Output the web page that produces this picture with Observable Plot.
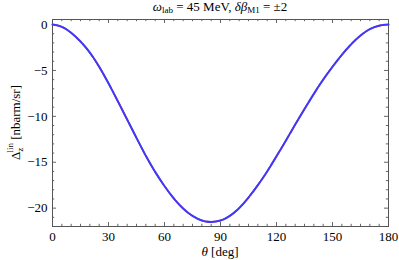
<!DOCTYPE html>
<html>
<head>
<meta charset="utf-8">
<script src="https://cdn.jsdelivr.net/npm/d3@7"></script>
<script src="https://cdn.jsdelivr.net/npm/@observablehq/plot@0.6"></script>
<style>
  html, body { margin: 0; padding: 0; background: #fff; }
  #chart { width: 399px; height: 260px; }
</style>
</head>
<body>
<div id="chart"></div>
<script>
// Angles (deg) and Δ_z^lin values (nbarm/sr)
const theta = [0, 5, 10, 15, 20, 25, 30, 35, 40, 45, 50, 55, 60, 65, 70, 75, 80, 85, 90,
               95, 100, 105, 110, 115, 120, 125, 130, 135, 140, 145, 150, 155, 160, 165, 170, 175, 180];
const deltaPlus = [0, -0.25, -0.9, -1.85, -3.05, -4.6, -6.4, -8.35, -10.35, -12.35, -14.3, -16.05, -17.6,
                   -18.95, -20.05, -20.85, -21.35, -21.5, -21.35, -20.85, -20.0, -18.85, -17.5, -16.0, -14.35,
                   -12.65, -10.9, -9.2, -7.55, -6.0, -4.6, -3.3, -2.15, -1.2, -0.5, -0.12, 0];
const deltaMinus = [0, -0.25, -0.9, -1.85, -3.05, -4.6, -6.4, -8.35, -10.35, -12.35, -14.3, -16.05, -17.6,
                    -18.95, -20.05, -20.85, -21.35, -21.5, -21.35, -20.85, -20.0, -18.85, -17.5, -16.0, -14.35,
                    -12.65, -10.9, -9.2, -7.55, -6.0, -4.6, -3.3, -2.15, -1.2, -0.5, -0.12, 0];
const xMajor = [0, 30, 60, 90, 120, 150, 180];
const xMinor = d3.range(0, 181, 5).filter(v => v % 30 !== 0);
const yMajor = [0, -5, -10, -15, -20];
const yMinor = d3.range(-22, 1, 1).filter(v => v % 5 !== 0);

const rowsPlus = theta.map((t, i) => ({theta: t, v: deltaPlus[i]}));
const rowsMinus = theta.map((t, i) => ({theta: t, v: deltaMinus[i]}));

const W = 399, H = 260;
const mL = 52, mR = 11, mT = 19, mB = 34;
const iw = W - mL - mR, ih = H - mT - mB;
const tickCol = "#666";

const plot = Plot.plot({
  width: W, height: H,
  marginLeft: mL, marginRight: mR, marginTop: mT, marginBottom: mB,
  style: {fontFamily: "Liberation Serif", fontSize: "13px", background: "#fff", color: "#000"},
  x: {domain: [0, 180]},
  y: {domain: [-22, 0.55]},
  marks: [
    Plot.axisX(xMajor, {anchor: "bottom", tickSize: 0, tickPadding: 5, label: null, fontSize: 13, fontFamily: "Liberation Serif"}),
    Plot.axisY(yMajor, {anchor: "left", tickSize: 0, tickPadding: 5, label: null, fontSize: 13, fontFamily: "Liberation Serif"}),
    // inward ticks on all four sides
    Plot.tickX(xMajor, {x: d => d, insetTop: ih - 4, stroke: tickCol}),
    Plot.tickX(xMajor, {x: d => d, insetBottom: ih - 4, stroke: tickCol}),
    Plot.tickX(xMinor, {x: d => d, insetTop: ih - 2.2, stroke: tickCol}),
    Plot.tickX(xMinor, {x: d => d, insetBottom: ih - 2.2, stroke: tickCol}),
    Plot.tickY(yMajor, {y: d => d, insetRight: iw - 4, stroke: tickCol}),
    Plot.tickY(yMajor, {y: d => d, insetLeft: iw - 4, stroke: tickCol}),
    Plot.tickY(yMinor, {y: d => d, insetRight: iw - 2.2, stroke: tickCol}),
    Plot.tickY(yMinor, {y: d => d, insetLeft: iw - 2.2, stroke: tickCol}),
    Plot.frame({stroke: "#555"}),
    Plot.line(rowsPlus, {x: "theta", y: "v", stroke: "#ff1a1a", strokeWidth: 1.6, curve: "natural"}),
    Plot.line(rowsMinus, {x: "theta", y: "v", stroke: "#3b3bff", strokeWidth: 2, curve: "natural",
                          strokeDasharray: "17,1.3"})
  ]
});

const svg = d3.select(plot);
const serif = "Liberation Serif";
// Title
const title = svg.append("text")
  .attr("x", mL + iw / 2).attr("y", 11)
  .attr("text-anchor", "middle").attr("font-family", serif).attr("font-size", 13).attr("fill", "#000");
title.append("tspan").attr("font-style", "italic").text("ω");
title.append("tspan").attr("font-size", 9).attr("dy", 2).text("lab");
title.append("tspan").attr("dy", -2).text(" = 45 MeV, ");
title.append("tspan").attr("font-style", "italic").text("δβ");
title.append("tspan").attr("font-size", 9).attr("dy", 2).text("M1");
title.append("tspan").attr("dy", -2).text(" = ±2");

// X label
const xl = svg.append("text")
  .attr("x", mL + iw / 2).attr("y", 256)
  .attr("text-anchor", "middle").attr("font-family", serif).attr("font-size", 13).attr("fill", "#000");
xl.append("tspan").attr("font-style", "italic").text("θ");
xl.append("tspan").text(" [deg]");

// Y label
const yl = svg.append("text")
  .attr("transform", `translate(20,${mT + ih / 2}) rotate(-90)`)
  .attr("text-anchor", "middle").attr("font-family", serif).attr("font-size", 13).attr("fill", "#000");
yl.append("tspan").text("Δ");
yl.append("tspan").attr("font-size", 9).attr("dy", 3).text("z");
yl.append("tspan").attr("font-size", 9).attr("dx", -5).attr("dy", -10).text("lin");
yl.append("tspan").attr("dy", 7).text(" [nbarm/sr]");

document.getElementById("chart").appendChild(plot);
</script>
</body>
</html>
